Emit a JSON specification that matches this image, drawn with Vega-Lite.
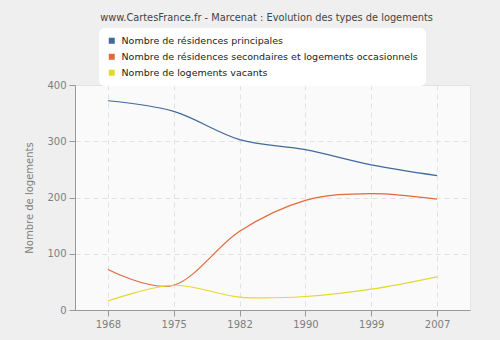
{
  "$schema": "https://vega.github.io/schema/vega-lite/v6.json",
  "width": 395,
  "height": 225,
  "autosize": {"type": "none"},
  "padding": {"left": 75, "top": 85, "right": 30, "bottom": 30},
  "background": "#efefef",
  "title": {
    "text": "www.CartesFrance.fr - Marcenat : Evolution des types de logements",
    "font": "DejaVu Sans",
    "fontSize": 9.8,
    "fontWeight": "normal",
    "color": "#444444",
    "anchor": "middle",
    "dx": -6,
    "offset": 5
  },
  "data": {
    "values": [
      {"annee": "1968", "type": "Nombre de résidences principales", "valeur": 372},
      {"annee": "1975", "type": "Nombre de résidences principales", "valeur": 353},
      {"annee": "1982", "type": "Nombre de résidences principales", "valeur": 303},
      {"annee": "1990", "type": "Nombre de résidences principales", "valeur": 285},
      {"annee": "1999", "type": "Nombre de résidences principales", "valeur": 258},
      {"annee": "2007", "type": "Nombre de résidences principales", "valeur": 239},
      {"annee": "1968", "type": "Nombre de résidences secondaires et logements occasionnels", "valeur": 72},
      {"annee": "1975", "type": "Nombre de résidences secondaires et logements occasionnels", "valeur": 44},
      {"annee": "1982", "type": "Nombre de résidences secondaires et logements occasionnels", "valeur": 140},
      {"annee": "1990", "type": "Nombre de résidences secondaires et logements occasionnels", "valeur": 195},
      {"annee": "1999", "type": "Nombre de résidences secondaires et logements occasionnels", "valeur": 207},
      {"annee": "2007", "type": "Nombre de résidences secondaires et logements occasionnels", "valeur": 197},
      {"annee": "1968", "type": "Nombre de logements vacants", "valeur": 16},
      {"annee": "1975", "type": "Nombre de logements vacants", "valeur": 44},
      {"annee": "1982", "type": "Nombre de logements vacants", "valeur": 23},
      {"annee": "1990", "type": "Nombre de logements vacants", "valeur": 24},
      {"annee": "1999", "type": "Nombre de logements vacants", "valeur": 37},
      {"annee": "2007", "type": "Nombre de logements vacants", "valeur": 59}
    ]
  },
  "mark": {"type": "line", "interpolate": "cardinal", "strokeWidth": 1.2},
  "encoding": {
    "x": {
      "field": "annee",
      "type": "ordinal",
      "scale": {"type": "point", "padding": 0.5},
      "axis": {
        "title": null,
        "labelAngle": 0,
        "labelFont": "DejaVu Sans",
        "labelFontSize": 10,
        "labelColor": "#808080",
        "domainColor": "#999999",
        "tickColor": "#999999",
        "tickSize": 6,
        "labelPadding": 3,
        "grid": true,
        "gridColor": "#e2e2e2",
        "gridDash": [5, 4]
      }
    },
    "y": {
      "field": "valeur",
      "type": "quantitative",
      "scale": {"domain": [0, 400]},
      "axis": {
        "title": "Nombre de logements",
        "titleFont": "DejaVu Sans",
        "titleFontSize": 10,
        "titleFontWeight": "normal",
        "titleColor": "#808080",
        "titlePadding": 12,
        "values": [0, 100, 200, 300, 400],
        "labelFont": "DejaVu Sans",
        "labelFontSize": 10,
        "labelColor": "#808080",
        "domainColor": "#999999",
        "tickColor": "#999999",
        "tickSize": 6,
        "labelPadding": 3,
        "grid": true,
        "gridColor": "#e2e2e2",
        "gridDash": [5, 4]
      }
    },
    "color": {
      "field": "type",
      "type": "nominal",
      "sort": [
        "Nombre de résidences principales",
        "Nombre de résidences secondaires et logements occasionnels",
        "Nombre de logements vacants"
      ],
      "scale": {
        "domain": [
          "Nombre de résidences principales",
          "Nombre de résidences secondaires et logements occasionnels",
          "Nombre de logements vacants"
        ],
        "range": ["#40699d", "#e2693a", "#e3d92e"]
      },
      "legend": {
        "title": null,
        "orient": "none",
        "legendX": 24,
        "legendY": -57,
        "fillColor": "#ffffff",
        "cornerRadius": 6,
        "padding": 8,
        "symbolType": "square",
        "symbolSize": 36,
        "symbolStrokeWidth": 0,
        "labelFont": "DejaVu Sans",
        "labelFontSize": 9.5,
        "labelColor": "#222222",
        "labelLimit": 400,
        "rowPadding": 5,
        "symbolOffset": 0,
        "labelOffset": 5,
        "encode": {
          "symbols": {
            "update": {
              "fill": {"scale": "color", "field": "value"},
              "stroke": {"value": "transparent"}
            }
          }
        }
      }
    }
  },
  "config": {
    "view": {"fill": "#fafafa", "stroke": "#e4e4e4"}
  }
}
